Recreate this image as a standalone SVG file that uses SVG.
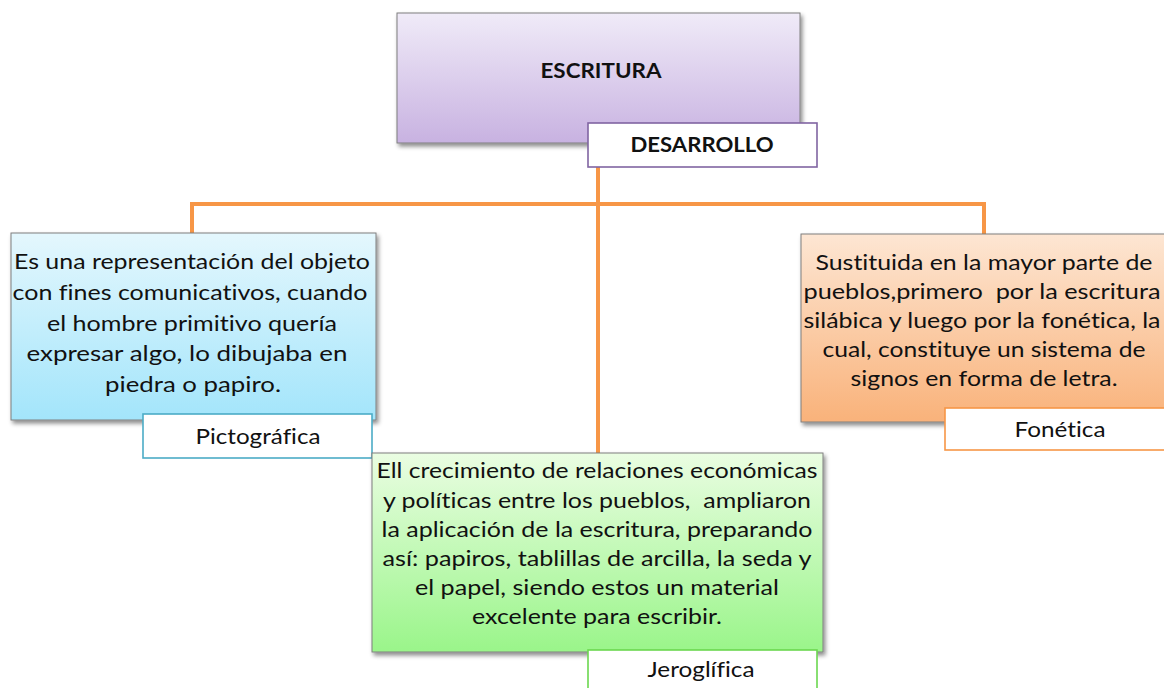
<svg xmlns="http://www.w3.org/2000/svg" width="1164" height="688" viewBox="0 0 1164 688">
<style>
.t{font-family:Lato,"Open Sans","Liberation Sans",sans-serif;font-size:22px;fill:#111;text-anchor:middle;font-variant-ligatures:none;white-space:pre}
.b{font-weight:bold;font-size:20px}
.box{stroke:#7f7f7f;stroke-width:1;filter:url(#sh)}
.lab{fill:#fff;stroke-width:1.6}
.con{fill:none;stroke:#f79646;stroke-width:4}
</style>
<defs>
<filter id="sh" x="-10%" y="-10%" width="125%" height="130%">
<feDropShadow dx="2" dy="3" stdDeviation="2" flood-color="#000" flood-opacity="0.45"/>
</filter>
<linearGradient id="gp" x1="0" y1="0" x2="0" y2="1"><stop offset="0" stop-color="#f0ebf8"/><stop offset="1" stop-color="#c8b2e1"/></linearGradient>
<linearGradient id="gb" x1="0" y1="0" x2="0" y2="1"><stop offset="0" stop-color="#e4f7fd"/><stop offset="1" stop-color="#a3e5fb"/></linearGradient>
<linearGradient id="go" x1="0" y1="0" x2="0" y2="1"><stop offset="0" stop-color="#fde6d3"/><stop offset="1" stop-color="#f9b27a"/></linearGradient>
<linearGradient id="gg" x1="0" y1="0" x2="0" y2="1"><stop offset="0" stop-color="#eafde2"/><stop offset="1" stop-color="#9af58a"/></linearGradient>
</defs>
<rect width="1164" height="688" fill="#fff"/>
<g id="connectors">
<path class="con" d="M598 167 V455"/>
<path class="con" d="M192 235 V204 H984 V235"/>
</g>
<g id="escritura">
<rect class="box" x="397" y="13" width="403" height="130" fill="url(#gp)"/>
<text class="t b" x="601" y="78" textLength="121" lengthAdjust="spacingAndGlyphs">ESCRITURA</text>
</g>
<g id="desarrollo">
<rect class="lab" x="588" y="123" width="229" height="44" stroke="#8064a2"/>
<text class="t b" x="702" y="152" textLength="143" lengthAdjust="spacingAndGlyphs">DESARROLLO</text>
</g>
<g id="pictografica-desc">
<rect class="box" x="11" y="233" width="365" height="187" fill="url(#gb)"/>
<text class="t" x="192" y="269" textLength="356" lengthAdjust="spacingAndGlyphs">Es una representación del objeto</text>
<text class="t" x="190" y="300" textLength="355" lengthAdjust="spacingAndGlyphs">con fines comunicativos, cuando</text>
<text class="t" x="192" y="331" textLength="290" lengthAdjust="spacingAndGlyphs">el hombre primitivo quería</text>
<text class="t" x="187" y="361" textLength="321" lengthAdjust="spacingAndGlyphs">expresar algo, lo dibujaba en</text>
<text class="t" x="193" y="392" textLength="176" lengthAdjust="spacingAndGlyphs">piedra o papiro.</text>
</g>
<g id="pictografica">
<rect class="lab" x="143" y="414" width="229" height="44" stroke="#4bacc6"/>
<text class="t" x="258" y="444" textLength="125" lengthAdjust="spacingAndGlyphs">Pictográfica</text>
</g>
<g id="fonetica-desc">
<rect class="box" x="801" y="234" width="370" height="188" fill="url(#go)"/>
<text class="t" x="984" y="270" textLength="337" lengthAdjust="spacingAndGlyphs">Sustituida en la mayor parte de</text>
<text class="t" x="982" y="299" textLength="357" lengthAdjust="spacingAndGlyphs">pueblos,primero  por la escritura</text>
<text class="t" x="982" y="328" textLength="357" lengthAdjust="spacingAndGlyphs">silábica y luego por la fonética, la</text>
<text class="t" x="984" y="357" textLength="323" lengthAdjust="spacingAndGlyphs">cual, constituye un sistema de</text>
<text class="t" x="984" y="386" textLength="267" lengthAdjust="spacingAndGlyphs">signos en forma de letra.</text>
</g>
<g id="fonetica">
<rect class="lab" x="945" y="408" width="230" height="42" stroke="#f79646"/>
<text class="t" x="1060" y="437" textLength="91" lengthAdjust="spacingAndGlyphs">Fonética</text>
</g>
<g id="jeroglifica-desc">
<rect class="box" x="372" y="453" width="451" height="199" fill="url(#gg)"/>
<text class="t" x="597" y="478" textLength="441" lengthAdjust="spacingAndGlyphs">Ell crecimiento de relaciones económicas</text>
<text class="t" x="597" y="508" textLength="428" lengthAdjust="spacingAndGlyphs">y políticas entre los pueblos,  ampliaron</text>
<text class="t" x="597" y="537" textLength="431" lengthAdjust="spacingAndGlyphs">la aplicación de la escritura, preparando</text>
<text class="t" x="597" y="566" textLength="429" lengthAdjust="spacingAndGlyphs">así: papiros, tablillas de arcilla, la seda y</text>
<text class="t" x="597" y="595" textLength="364" lengthAdjust="spacingAndGlyphs">el papel, siendo estos un material</text>
<text class="t" x="597" y="624" textLength="250" lengthAdjust="spacingAndGlyphs">excelente para escribir.</text>
</g>
<g id="jeroglifica">
<rect class="lab" x="588" y="650" width="229" height="50" stroke="#6bd84f"/>
<text class="t" x="701" y="677" textLength="107" lengthAdjust="spacingAndGlyphs">Jeroglífica</text>
</g>
</svg>
